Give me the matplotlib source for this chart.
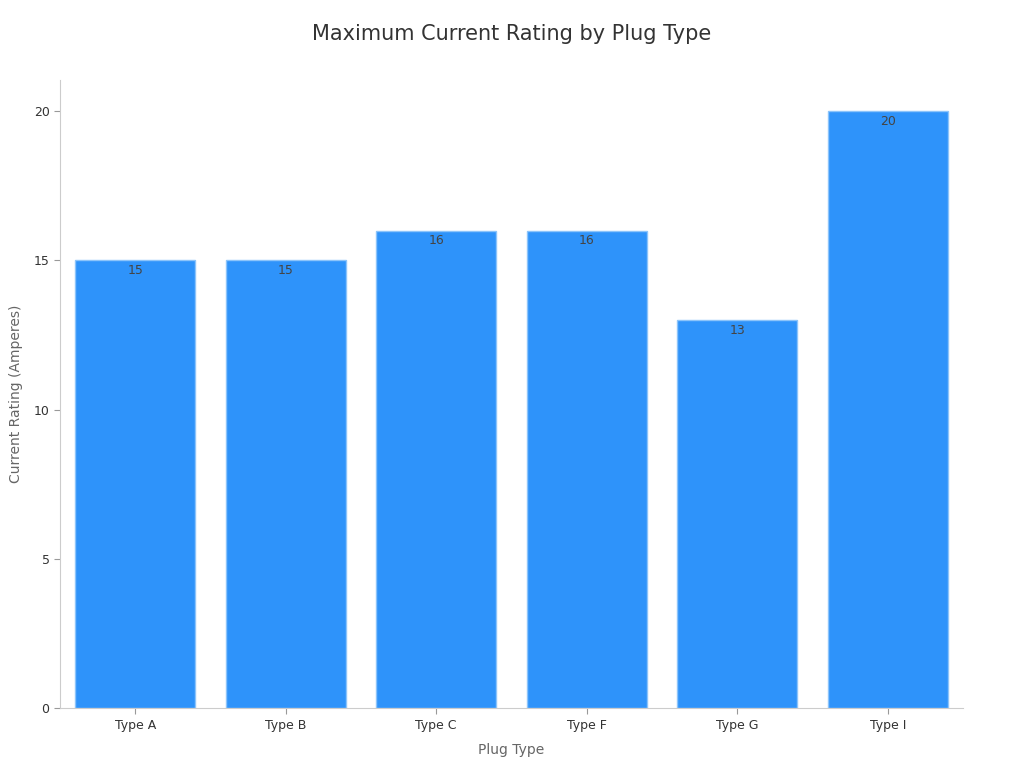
import matplotlib.pyplot as plt

# 数据
plug_types = ['Type A', 'Type B', 'Type C', 'Type F', 'Type G', 'Type I']
ratings = [15, 15, 16, 16, 13, 20]

fig = plt.figure(figsize=(10.24, 7.68), dpi=100)
ax = fig.add_axes([0.0586, 0.078, 0.8818, 0.818])

bars = ax.bar(plug_types, ratings, width=0.8, color='#2E93FA',
              edgecolor='#8CC4FA', linewidth=1)

# 柱内顶部标签
for b, v in zip(bars, ratings):
    ax.text(b.get_x() + b.get_width() / 2, v - 0.12, str(v),
            ha='center', va='top', fontsize=9, color='#444444')

ax.set_xlim(-0.5, 5.5)
ax.set_ylim(0, 21.05)
ax.set_yticks([0, 5, 10, 15, 20])

ax.set_title('Maximum Current Rating by Plug Type', fontsize=15,
             color='#333333', pad=29)
ax.set_xlabel('Plug Type', fontsize=10, color='#666666', labelpad=8)
ax.set_ylabel('Current Rating (Amperes)', fontsize=10, color='#666666', labelpad=8)

for side in ['top', 'right']:
    ax.spines[side].set_visible(False)
for side in ['left', 'bottom']:
    ax.spines[side].set_color('#CCCCCC')
ax.tick_params(axis='both', labelsize=9, colors='#333333')
ax.tick_params(axis='both', color='#999999', length=4)

fig.savefig('out.png', dpi=100)
